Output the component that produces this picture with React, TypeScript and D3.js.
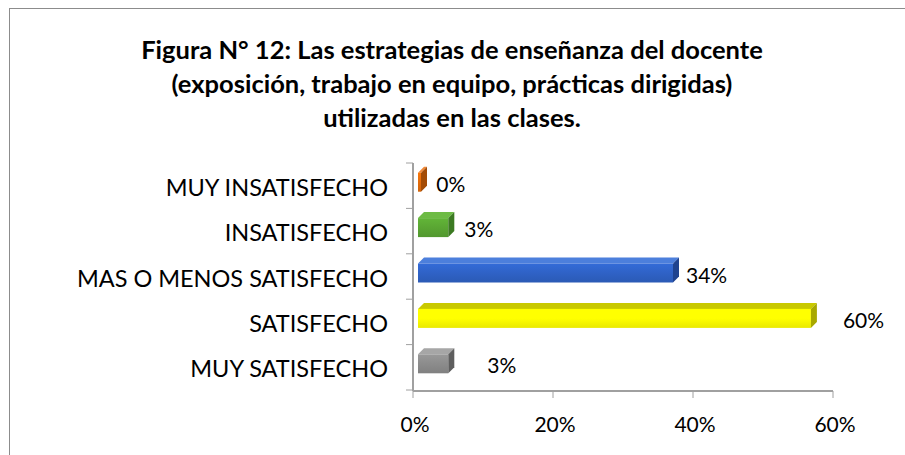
import React from "react";
import * as d3 from "d3";

const titleLines = [
  "Figura N° 12: Las estrategias de enseñanza del docente",
  "(exposición, trabajo en equipo, prácticas dirigidas)",
  "utilizadas en las clases.",
];
const categories = [
  "MUY INSATISFECHO",
  "INSATISFECHO",
  "MAS O MENOS SATISFECHO",
  "SATISFECHO",
  "MUY SATISFECHO",
];
// bar lengths as drawn in the picture (share of respondents)
const barValues = [0.019, 0.059, 0.38, 0.577, 0.059];
// data label texts as printed
const valueLabels = ["0%", "3%", "34%", "60%", "3%"];
const xTicks = [0, 0.2, 0.4, 0.6];

const palette = [
  { front: "#E36C0A", top: "#F08A3A", side: "#A34B05" },
  { front: "#5AA633", top: "#6DBB44", side: "#3C7A22" },
  { front: "#2F62C6", top: "#4C7FDC", side: "#1F438F" },
  { front: "#FFFF00", top: "#C9C900", side: "#A8A800" },
  { front: "#8C8C8C", top: "#A6A6A6", side: "#5E5E5E" },
];
// horizontal nudges of the data labels, as placed in the original
const LABEL_NUDGE = [10, 10, 7, 26, 33];

const W = 905;
const H = 455;
const FONT = "Lato, 'Open Sans', sans-serif";

export default function App() {
  const x = d3.scaleLinear().domain([0, 0.6]).range([413, 833]);
  const y = d3.scaleBand<string>().domain(categories).range([163, 390]).paddingInner(0).paddingOuter(0);
  const bw = y.bandwidth();
  const dx = 6;
  const dy = 6;
  const x0 = x(0) + 5;

  return (
    <svg
      width={W}
      height={H}
      style={{ position: "absolute", left: 0, top: 0, background: "#fff" }}
      fontFamily={FONT}
    >
      <defs>
        {palette.map((p, i) => (
          <linearGradient key={i} id={`g${i}`} x1="0" y1="0" x2="0" y2="1">
            <stop offset="0" stopColor={d3.color(p.front)!.brighter(0.25).formatHex()} />
            <stop offset="0.5" stopColor={p.front} />
            <stop offset="1" stopColor={d3.color(p.front)!.darker(0.25).formatHex()} />
          </linearGradient>
        ))}
      </defs>
      <rect x={9.5} y={8.5} width={W + 10} height={H + 10} fill="#fff" stroke="#8c8c8c" strokeWidth={1} />

      {titleLines.map((t, i) => (
        <text
          key={i}
          x={452}
          y={59 + i * 34}
          textAnchor="middle"
          fontWeight="bold"
          fontSize={25.5}
          fill="#000"
        >
          {t}
        </text>
      ))}

      {/* axes */}
      <line x1={x(0)} x2={x(0)} y1={163} y2={391} stroke="#a0a0a0" strokeWidth={2} />
      <line x1={x(0)} x2={x(0.6)} y1={391} y2={391} stroke="#a0a0a0" strokeWidth={2} />
      {[...categories.map((c) => y(c)!), 390].map((v, i) => (
        <line key={i} x1={406} x2={x(0)} y1={v} y2={v} stroke="#a0a0a0" strokeWidth={1} />
      ))}
      {xTicks.map((t) => (
        <g key={t}>
          <line x1={x(t)} x2={x(t)} y1={391} y2={398} stroke="#a0a0a0" strokeWidth={1} />
          <text x={x(t) + 2} y={432} textAnchor="middle" fontSize={21} fill="#000">
            {d3.format(".0%")(t)}
          </text>
        </g>
      ))}

      {/* category labels */}
      {categories.map((c) => (
        <text key={c} x={388} y={y(c)! + bw / 2 + 10} textAnchor="end" fontSize={23.5} fill="#000">
          {c}
        </text>
      ))}

      {/* bars */}
      {categories.map((c, i) => {
        const cy = y(c)! + bw / 2;
        const fy = cy - 13;
        const fh = 19;
        const xe = Math.max(x(barValues[i]) - dx, x0 + 3);
        const p = palette[i];
        const topPts = `${x0},${fy} ${x0 + dx},${fy - dy} ${xe + dx},${fy - dy} ${xe},${fy}`;
        const sidePts = `${xe},${fy} ${xe + dx},${fy - dy} ${xe + dx},${fy + fh - dy} ${xe},${fy + fh}`;
        return (
          <g key={c}>
            <polygon points={topPts} fill={p.top} />
            <rect x={x0} y={fy} width={xe - x0} height={fh} fill={`url(#g${i})`} />
            <polygon points={sidePts} fill={p.side} />
            <text x={x(barValues[i]) + LABEL_NUDGE[i]} y={cy + 6} fontSize={21} fill="#000">
              {valueLabels[i]}
            </text>
          </g>
        );
      })}
    </svg>
  );
}
